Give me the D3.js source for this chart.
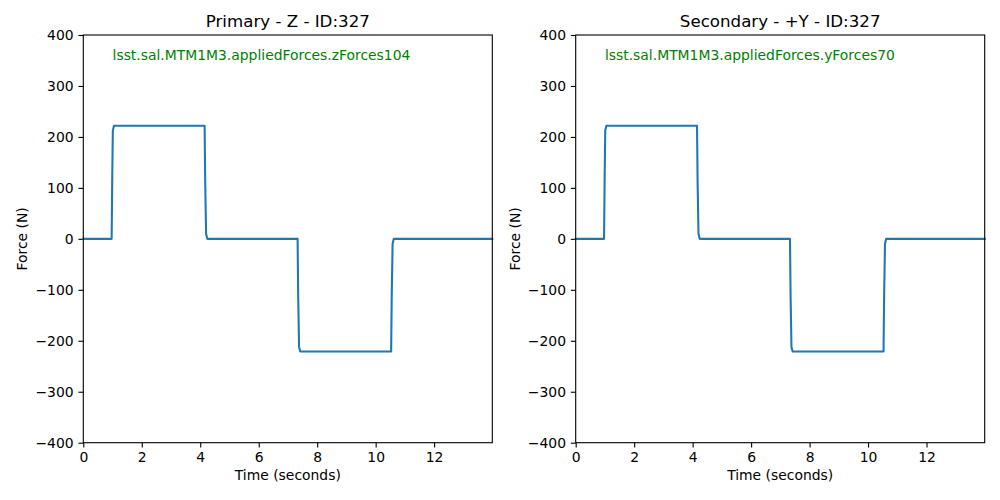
<!DOCTYPE html>
<html><head><meta charset="utf-8">
<script src="https://cdn.jsdelivr.net/npm/d3@7"></script>
<style>body{margin:0;background:#fff}svg{display:block}text{font-family:"DejaVu Sans",sans-serif}</style>
</head><body><svg id="c" width="1000" height="500"></svg>
<script>
const titles = ["Primary - Z - ID:327", "Secondary - +Y - ID:327"];
const labels = ["lsst.sal.MTM1M3.appliedForces.zForces104", "lsst.sal.MTM1M3.appliedForces.yForces70"];
const timePrimary = [0, 0.97, 0.99, 1.01, 1.05, 4.15, 4.17, 4.20, 4.24, 7.33, 7.35, 7.38, 7.42, 10.53, 10.55, 10.58, 10.62, 13.99];
const forcePrimary = [0, 0, 120, 212, 222, 222, 110, 10, 0, 0, -110, -212, -221, -221, -110, -10, 0, 0];
const timeSecondary = [0, 0.97, 0.99, 1.01, 1.05, 4.15, 4.17, 4.20, 4.24, 7.33, 7.35, 7.38, 7.42, 10.53, 10.55, 10.58, 10.62, 13.99];
const forceSecondary = [0, 0, 120, 212, 222, 222, 110, 10, 0, 0, -110, -212, -221, -221, -110, -10, 0, 0];
const xTicks = [0, 2, 4, 6, 8, 10, 12];
const yTicks = [-400, -300, -200, -100, 0, 100, 200, 300, 400];
const xDomain = [0, 13.99];
const yDomain = [-400, 400];

const svg = d3.select("#c");
const panels = [
  {left: 83.3, t: timePrimary, f: forcePrimary, title: titles[0], label: labels[0]},
  {left: 575.7, t: timeSecondary, f: forceSecondary, title: titles[1], label: labels[1]}
];
const W = 409, plotTop = 35, plotBottom = 442.7;
const fs = 13.9;
const fmt = d => d < 0 ? "\u2212" + Math.abs(d) : String(d);

panels.forEach(p => {
  const x = d3.scaleLinear().domain(xDomain).range([p.left, p.left + W]);
  const y = d3.scaleLinear().domain(yDomain).range([plotBottom, plotTop]);
  const g = svg.append("g");

  const xa = g.append("g").attr("transform", `translate(0,${plotBottom})`)
    .call(d3.axisBottom(x).tickValues(xTicks).tickFormat(fmt).tickSize(4.86).tickPadding(4.86));
  const ya = g.append("g").attr("transform", `translate(${p.left},0)`)
    .call(d3.axisLeft(y).tickValues(yTicks).tickFormat(fmt).tickSize(4.86).tickPadding(4.86));
  [xa, ya].forEach(a => {
    a.select(".domain").remove();
    a.selectAll("line").attr("stroke", "#000").attr("stroke-width", 1.1);
    a.selectAll("text").attr("font-size", fs).attr("fill", "#000").attr("font-family", "DejaVu Sans");
  });

  const data = p.t.map((t, i) => [t, p.f[i]]);
  g.append("path").datum(data)
    .attr("fill", "none").attr("stroke", "#1f77b4").attr("stroke-width", 2.08)
    .attr("stroke-linejoin", "round").attr("stroke-linecap", "square")
    .attr("d", d3.line().x(d => x(d[0])).y(d => y(d[1])));

  g.append("rect").attr("x", p.left).attr("y", plotTop).attr("width", W).attr("height", plotBottom - plotTop)
    .attr("fill", "none").attr("stroke", "#000").attr("stroke-width", 1.1);

  g.append("text").attr("x", p.left + W / 2).attr("y", 26.7).attr("text-anchor", "middle")
    .attr("font-size", 16.67).text(p.title);
  g.append("text").attr("x", x(1)).attr("y", y(350)).attr("font-size", fs).attr("fill", "#008000").text(p.label);
  g.append("text").attr("x", p.left + W / 2).attr("y", 480).attr("text-anchor", "middle")
    .attr("font-size", fs).text("Time (seconds)");
  g.append("text").attr("transform", `translate(${p.left - 56},${(plotTop + plotBottom) / 2}) rotate(-90)`)
    .attr("text-anchor", "middle").attr("font-size", fs).text("Force (N)");
});
</script></body></html>
